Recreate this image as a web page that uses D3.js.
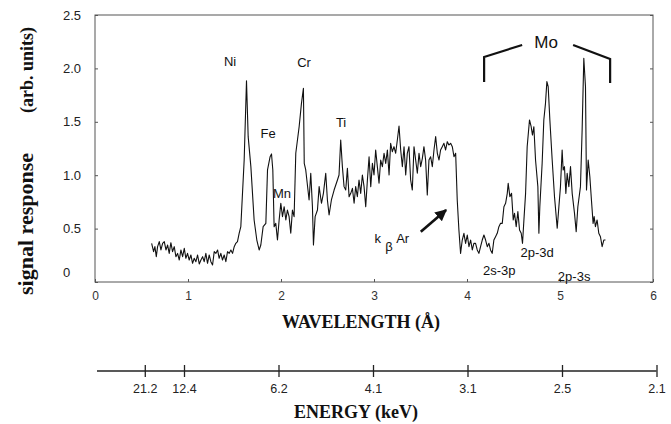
<!DOCTYPE html>
<html><head><meta charset="utf-8">
<script src="https://cdn.jsdelivr.net/npm/d3@7"></script>
<style>
html,body{margin:0;padding:0;background:#fff;}
svg{display:block;}
.sans{font-family:"Liberation Sans",Arial,Helvetica,sans-serif;}
.serif{font-family:"Liberation Serif","Times New Roman",serif;font-weight:bold;}
</style></head>
<body>
<svg id="chart" width="671" height="424"></svg>
<script>
// ---- data ----
const wavelength = [0.609,0.630,0.644,0.659,0.673,0.691,0.709,0.727,0.745,0.763,
0.781,0.798,0.816,0.834,0.852,0.870,0.888,0.906,0.924,0.942,
0.960,0.977,0.995,1.013,1.031,1.049,1.067,1.085,1.103,1.121,
1.139,1.157,1.174,1.192,1.210,1.228,1.246,1.264,1.282,1.300,
1.318,1.335,1.353,1.371,1.389,1.407,1.425,1.443,1.461,1.479,
1.497,1.514,1.532,1.550,1.568,1.604,1.629,1.647,1.676,1.711,
1.740,1.765,1.783,1.808,1.837,1.855,1.883,1.898,1.912,1.926,
1.944,1.962,1.980,1.998,2.016,2.034,2.052,2.069,2.087,2.105,
2.123,2.141,2.159,2.195,2.220,2.241,2.250,
2.266,2.302,2.320,2.338,2.349,2.367,2.392,2.410,2.435,2.456,
2.481,2.499,2.517,2.542,2.571,2.607,2.624,2.642,2.660,2.678,
2.696,2.714,2.732,2.750,2.768,2.786,2.803,2.821,2.839,2.857,
2.875,2.893,2.911,2.929,2.947,2.965,2.983,3.000,3.018,3.036,
3.054,3.072,3.090,3.108,3.126,3.144,3.162,3.179,3.197,3.215,
3.233,3.251,3.269,3.287,3.305,3.323,3.341,3.358,3.376,3.394,
3.412,3.430,3.448,3.466,3.484,3.502,3.520,3.537,3.555,3.573,
3.591,3.609,3.627,3.645,3.663,3.681,3.699,3.716,3.734,3.752,
3.770,3.788,3.806,3.824,3.842,3.860,3.878,3.895,3.913,3.931,
3.949,3.967,3.985,4.003,4.021,4.039,4.057,4.074,
4.092,4.110,4.128,4.146,4.164,4.182,4.200,4.218,4.236,4.253,
4.271,4.289,4.307,4.325,4.343,4.361,4.379,4.397,4.415,4.433,
4.443,4.461,4.479,4.497,4.511,4.529,4.547,4.565,4.583,4.597,
4.612,4.630,4.647,4.672,4.690,4.704,4.719,4.737,4.762,4.773,
4.783,4.808,4.826,4.844,4.859,4.873,4.891,4.916,4.941,4.970,
4.988,5.005,5.023,5.034,5.048,5.063,5.077,5.095,5.113,5.131,
5.156,5.174,5.192,5.220,5.238,5.256,5.274,5.285,5.303,5.321,
5.338,5.356,5.367,5.381,5.399,5.417,5.435,5.453,5.471,5.489];

const signal = [0.362,0.284,0.331,0.237,0.331,0.378,0.300,0.362,0.378,0.300,
0.346,0.268,0.368,0.284,0.331,0.237,0.268,0.206,0.300,0.237,
0.315,0.222,0.268,0.206,0.253,0.175,0.222,0.190,0.253,0.169,
0.206,0.237,0.190,0.268,0.175,0.253,0.190,0.159,0.284,0.268,
0.300,0.222,0.268,0.206,0.253,0.190,0.284,0.268,0.300,0.268,
0.331,0.362,0.378,0.456,0.518,1.142,1.885,1.361,1.080,0.581,
0.393,0.300,0.346,0.518,0.549,1.049,1.173,1.199,1.049,0.518,
0.549,0.393,0.581,0.737,0.612,0.705,0.581,0.674,0.612,0.456,
0.674,0.612,1.205,1.454,1.673,1.813,1.111,
1.049,0.768,1.018,0.705,0.346,0.612,0.674,0.893,0.737,0.830,
1.018,0.768,0.627,0.768,0.861,0.955,1.002,1.330,1.080,0.893,
0.861,1.064,0.799,0.830,0.877,0.737,0.893,0.799,0.955,0.830,
1.002,0.893,0.705,0.955,1.173,0.893,1.111,1.002,1.236,1.080,
0.924,1.142,1.080,1.205,1.111,1.236,1.002,1.299,1.220,1.267,
1.205,1.330,1.461,1.236,1.080,1.267,1.002,1.205,1.267,0.955,
0.861,1.267,1.142,1.018,1.205,1.080,1.158,1.267,1.142,0.815,
1.142,1.173,1.080,1.236,1.361,1.205,1.142,1.236,1.267,1.299,
1.236,1.314,1.283,1.299,1.267,1.173,1.205,0.768,0.487,0.268,
0.393,0.456,0.362,0.440,0.331,0.393,0.300,0.362,
0.362,0.300,0.268,0.331,0.393,0.440,0.393,0.331,0.362,0.300,
0.268,0.393,0.424,0.456,0.518,0.549,0.549,0.705,0.737,0.830,
0.924,0.799,0.830,0.581,0.643,0.518,0.659,0.487,0.456,0.362,
0.581,0.830,1.267,1.517,1.454,1.376,1.454,1.142,0.893,0.456,
0.705,1.111,1.517,1.673,1.876,1.829,1.517,1.142,0.799,0.503,
0.705,0.893,1.236,1.049,1.080,0.830,1.018,0.893,1.080,0.830,
0.643,0.471,0.705,0.893,1.423,2.094,1.829,0.861,1.142,0.986,
0.768,0.549,0.612,0.518,0.581,0.456,0.424,0.331,0.393,0.393];

const xTicks = [0,1,2,3,4,5,6];
const yTicks = [0,0.5,1.0,1.5,2.0,2.5];
const energyTickWavelengths = [0.585,1,2,3,4,5,6];   // keV = 12.4 / λ(Å)
const HC = 12.4;

// peak labels (anchored in data space: wavelength, signal)
const peakLabels = [
  {t:"Ni", l:1.452, v:2.060},
  {t:"Cr", l:2.248, v:2.051},
  {t:"Fe", l:1.861, v:1.395},
  {t:"Mn", l:2.011, v:0.833},
  {t:"Ti", l:2.646, v:1.489},
  {t:"2s-3p", l:4.346, v:0.103},
  {t:"2p-3d", l:4.754, v:0.272},
  {t:"2p-3s", l:5.152, v:0.047}
];

// ---- drawing ----
const svg = d3.select("#chart");
const x = d3.scaleLinear().domain([0,6]).range([95,653]);
const y = d3.scaleLinear().domain([0,2.5]).range([282,15]);
const xE = d3.scaleLinear().domain([0,6]).range([89.5,656.5]);

// frame
svg.append("rect").attr("x",x(0)).attr("y",y(2.5)).attr("width",x(6)-x(0)).attr("height",y(0)-y(2.5))
  .attr("fill","none").attr("stroke","#555").attr("stroke-width",1);

// bottom axis
const gx = svg.append("g").attr("transform",`translate(0,${y(0)})`)
  .call(d3.axisBottom(x).tickValues(xTicks).tickSizeInner(-3).tickSizeOuter(0).tickPadding(9).tickFormat(d3.format("d")));
gx.select(".domain").remove();
gx.selectAll("line").attr("stroke","#555");
gx.selectAll("text").attr("class","sans").attr("font-size",12).attr("fill","#333");

// left axis
const gy = svg.append("g").attr("transform",`translate(${x(0)},0)`)
  .call(d3.axisLeft(y).tickValues(yTicks).tickSizeInner(-3).tickSizeOuter(0).tickFormat(d => d===0 ? "0" : d3.format(".1f")(d)));
gy.select(".domain").remove();
gy.selectAll("line").attr("stroke","#555");
gy.selectAll("text").attr("class","sans").attr("font-size",13).attr("fill","#222")
  .attr("text-anchor","start").attr("x",-32).attr("dy", d => d===0 ? "-0.4em" : "0.32em");

// right axis ticks
const gr = svg.append("g").attr("transform",`translate(${x(6)},0)`)
  .call(d3.axisRight(y).tickValues(yTicks).tickSizeInner(-3).tickSizeOuter(0).tickFormat(""));
gr.select(".domain").remove();
gr.selectAll("line").attr("stroke","#555");

// spectrum
const pts = wavelength.map((l,i)=>[l,signal[i]]);
svg.append("path").datum(pts)
  .attr("d", d3.line().x(d=>x(d[0])).y(d=>y(d[1])))
  .attr("fill","none").attr("stroke","#111").attr("stroke-width",1.1).attr("stroke-linejoin","round");

// peak labels
svg.selectAll("text.peak").data(peakLabels).join("text")
  .attr("class","sans peak").attr("x",d=>x(d.l)).attr("y",d=>y(d.v))
  .attr("text-anchor","middle").attr("dominant-baseline","central")
  .attr("font-size",13).attr("fill","#111").text(d=>d.t);

// k beta Ar
const kb = svg.append("g").attr("class","sans").attr("font-size",13).attr("fill","#111");
kb.append("text").attr("x",x(3.039)).attr("y",y(0.403)).attr("text-anchor","middle").attr("dominant-baseline","central").text("k");
kb.append("text").attr("x",x(3.162)).attr("y",y(0.328)).attr("text-anchor","middle").attr("dominant-baseline","central").text("β");
kb.append("text").attr("x",x(3.308)).attr("y",y(0.403)).attr("text-anchor","middle").attr("dominant-baseline","central").text("Ar");

// arrow
svg.append("defs").append("marker").attr("id","ah").attr("viewBox","0 0 10 10")
  .attr("refX",9).attr("refY",5).attr("markerWidth",4.5).attr("markerHeight",4.5).attr("orient","auto")
  .append("path").attr("d","M0,0L10,5L0,10z").attr("fill","#111");
svg.append("line").attr("x1",x(3.503)).attr("y1",y(0.471)).attr("x2",x(3.775)).attr("y2",y(0.674))
  .attr("stroke","#111").attr("stroke-width",2.6).attr("marker-end","url(#ah)");

// Mo bracket
const br = d3.line().x(d=>x(d[0])).y(d=>y(d[1]));
svg.append("path").attr("d",br([[4.184,1.873],[4.184,2.107],[4.593,2.219]]))
  .attr("fill","none").attr("stroke","#111").attr("stroke-width",2.2);
svg.append("path").attr("d",br([[5.141,2.219],[5.539,2.088],[5.539,1.863]]))
  .attr("fill","none").attr("stroke","#111").attr("stroke-width",2.2);
svg.append("text").attr("class","sans").attr("x",x(4.851)).attr("y",y(2.238))
  .attr("text-anchor","middle").attr("dominant-baseline","central").attr("font-size",17).attr("fill","#111").text("Mo");

// axis titles
svg.append("text").attr("class","serif").attr("x",361).attr("y",328).attr("text-anchor","middle")
  .attr("font-size",18).attr("fill","#111").text("WAVELENGTH  (Å)");
svg.append("text").attr("class","serif").attr("x",356).attr("y",418).attr("text-anchor","middle")
  .attr("font-size",18).attr("fill","#111").text("ENERGY (keV)");
svg.append("text").attr("class","serif").attr("transform","translate(33,224) rotate(-90)")
  .attr("text-anchor","middle").attr("font-size",22).attr("fill","#111").text("signal response");
svg.append("text").attr("class","serif").attr("transform","translate(33,70) rotate(-90)")
  .attr("text-anchor","middle").attr("font-size",18).attr("fill","#111").text("(arb. units)");

// energy axis
const ge = svg.append("g").attr("transform","translate(0,371)")
  .call(d3.axisBottom(xE).tickValues(energyTickWavelengths).tickSizeInner(6).tickSizeOuter(0).tickPadding(7.5)
    .tickFormat(l => d3.format(".1f")(HC/l)));
ge.select(".domain").remove();
ge.insert("line",":first-child").attr("x1",x(0)+2).attr("x2",xE(6)).attr("y1",0).attr("y2",0)
  .attr("stroke","#222").attr("stroke-width",1.3);
ge.selectAll(".tick line").attr("y1",-6).attr("y2",6).attr("stroke","#222").attr("stroke-width",1.3);
ge.selectAll("text").attr("class","sans").attr("font-size",12.5).attr("fill","#222");
</script>
</body></html>
